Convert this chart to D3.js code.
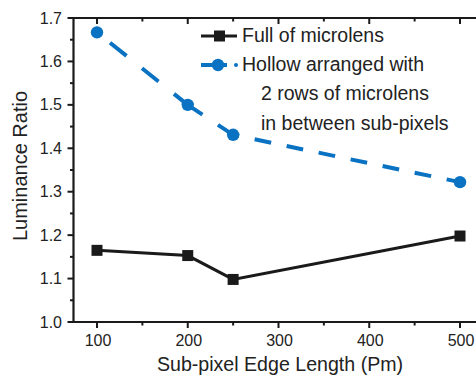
<!DOCTYPE html>
<html><head><meta charset="utf-8">
<script src="https://cdn.jsdelivr.net/npm/d3@7"></script>
<style>body{margin:0;background:#fff;overflow:hidden}svg{display:block}</style>
</head><body>
<script>
const xValues = [100, 200, 250, 500];
const fullSeries = [1.165, 1.153, 1.098, 1.198];
const hollowSeries = [1.667, 1.500, 1.431, 1.322];
const xTicks = [100, 200, 300, 400, 500];
const xMinor = [150, 250, 350, 450];
const yTicks = [1.0, 1.1, 1.2, 1.3, 1.4, 1.5, 1.6, 1.7];
const yMinor = [1.05, 1.15, 1.25, 1.35, 1.45, 1.55, 1.65];
const legendLines = ["Full of microlens", "Hollow arranged with", "2 rows of microlens", "in between sub-pixels"];

const W = 476, H = 375;
const svg = d3.select("body").append("svg").attr("width", W).attr("height", H);
const font = "Liberation Sans, Arial, sans-serif";
const blue = "#0A72C2";
const ink = "#1a1a1a";
const txt = "#222";

const x = d3.scaleLinear().domain([100, 500]).range([97, 460]);
const y = d3.scaleLinear().domain([1.0, 1.7]).range([322, 18]);
const x0 = 73.5, xEnd = 478;

// axes lines
const g = svg.append("g");
g.append("line").attr("x1", x0).attr("x2", xEnd).attr("y1", y(1.0)).attr("y2", y(1.0)).attr("stroke", ink).attr("stroke-width", 2.2);
g.append("line").attr("x1", x0).attr("x2", xEnd).attr("y1", y(1.7)).attr("y2", y(1.7)).attr("stroke", ink).attr("stroke-width", 2.2);
g.append("line").attr("x1", x0).attr("x2", x0).attr("y1", y(1.7) - 1).attr("y2", y(1.0) + 1).attr("stroke", ink).attr("stroke-width", 2.2);

// bottom ticks (outward)
xTicks.forEach(v => g.append("line").attr("x1", x(v)).attr("x2", x(v)).attr("y1", y(1.0)).attr("y2", y(1.0) + 6).attr("stroke", ink).attr("stroke-width", 2));
xMinor.forEach(v => g.append("line").attr("x1", x(v)).attr("x2", x(v)).attr("y1", y(1.0)).attr("y2", y(1.0) + 3.5).attr("stroke", ink).attr("stroke-width", 2));
// top ticks (inward)
xTicks.forEach(v => g.append("line").attr("x1", x(v)).attr("x2", x(v)).attr("y1", y(1.7)).attr("y2", y(1.7) + 6).attr("stroke", ink).attr("stroke-width", 2));
xMinor.forEach(v => g.append("line").attr("x1", x(v)).attr("x2", x(v)).attr("y1", y(1.7)).attr("y2", y(1.7) + 3.5).attr("stroke", ink).attr("stroke-width", 2));
// left ticks (outward)
yTicks.forEach(v => g.append("line").attr("x1", x0 - 6).attr("x2", x0).attr("y1", y(v)).attr("y2", y(v)).attr("stroke", ink).attr("stroke-width", 2));
yMinor.forEach(v => g.append("line").attr("x1", x0 - 3.5).attr("x2", x0).attr("y1", y(v)).attr("y2", y(v)).attr("stroke", ink).attr("stroke-width", 2));

// tick labels
xTicks.forEach(v => svg.append("text").attr("x", x(v) + 1).attr("y", 346).attr("text-anchor", "middle")
  .attr("font-family", font).attr("font-size", 16).attr("fill", txt).text(v));
yTicks.forEach(v => svg.append("text").attr("x", 62).attr("y", y(v) + 5.5).attr("text-anchor", "end")
  .attr("font-family", font).attr("font-size", 16).attr("fill", txt).text(v.toFixed(1)));

// axis titles
svg.append("text").attr("x", 280).attr("y", 371).attr("text-anchor", "middle")
  .attr("font-family", font).attr("font-size", 19.6).attr("fill", txt).text("Sub-pixel Edge Length (Pm)");
svg.append("text").attr("transform", "translate(27,166) rotate(-90)").attr("text-anchor", "middle")
  .attr("font-family", font).attr("font-size", 20).attr("fill", txt).text("Luminance Ratio");

// hollow series: dashed segments (dash pattern measured along x)
const dashX = 16.5, gapX = 15.5, phaseX = [19, 1.8, 10.5];
for (let i = 0; i < hollowSeries.length - 1; i++) {
  const xa = x(xValues[i]), ya = y(hollowSeries[i]);
  const xb = x(xValues[i + 1]), yb = y(hollowSeries[i + 1]);
  const k = Math.hypot(xb - xa, yb - ya) / (xb - xa);
  svg.append("path")
    .attr("d", d3.line()([[xa, ya], [xb, yb]]))
    .attr("fill", "none").attr("stroke", blue).attr("stroke-width", 4)
    .attr("stroke-dasharray", `${dashX * k},${gapX * k}`)
    .attr("stroke-dashoffset", phaseX[i] * k);
}
svg.selectAll(".c").data(hollowSeries).enter().append("circle")
  .attr("cx", (d, i) => x(xValues[i])).attr("cy", d => y(d)).attr("r", 6.2).attr("fill", blue);

const line = d3.line().x((d, i) => x(xValues[i])).y(d => y(d));
svg.append("path").attr("d", line(fullSeries)).attr("fill", "none").attr("stroke", ink).attr("stroke-width", 3);
svg.selectAll(".s").data(fullSeries).enter().append("rect")
  .attr("x", (d, i) => x(xValues[i]) - 5.5).attr("y", d => y(d) - 5.5).attr("width", 11).attr("height", 11).attr("fill", ink);

// legend
const lg = svg.append("g");
lg.append("line").attr("x1", 201).attr("x2", 237).attr("y1", 36).attr("y2", 36).attr("stroke", ink).attr("stroke-width", 3);
lg.append("rect").attr("x", 214).attr("y", 30.5).attr("width", 11).attr("height", 11).attr("fill", ink);
lg.append("line").attr("x1", 201).attr("x2", 227).attr("y1", 65).attr("y2", 65).attr("stroke", blue).attr("stroke-width", 4);
lg.append("circle").attr("cx", 218).attr("cy", 65).attr("r", 6.2).attr("fill", blue);
lg.append("circle").attr("cx", 236).attr("cy", 65).attr("r", 2).attr("fill", blue);
const lx = [242, 242, 261, 261], ly = [42, 71, 100, 129.5];
legendLines.forEach((t, i) => lg.append("text").attr("x", lx[i]).attr("y", ly[i])
  .attr("font-family", font).attr("font-size", 19.5).attr("fill", txt).text(t));
</script>
</body></html>
